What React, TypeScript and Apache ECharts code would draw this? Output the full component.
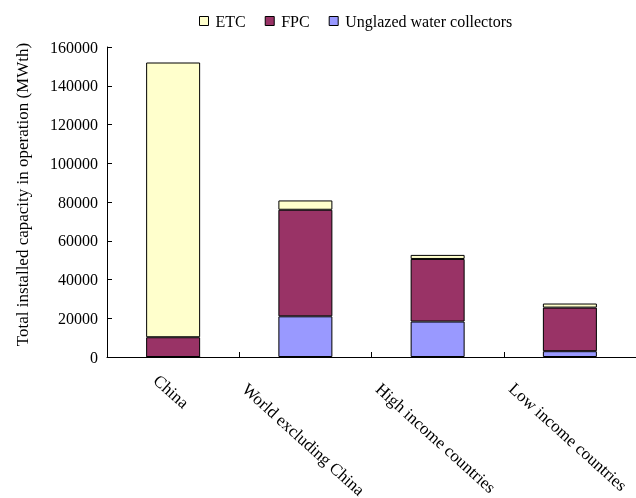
import React, { useEffect, useRef } from "react";
import * as echarts from "echarts";

const categories = ["China", "World excluding China", "High income countries", "Low income countries"];
const unglazed = [0, 21000, 18300, 3000];
const fpc = [10200, 55000, 32300, 22500];
const etc = [141800, 4800, 2100, 2100];
const yTicks = { min: 0, max: 160000, interval: 20000 };

const FONT = "'Liberation Serif', 'Times New Roman', serif";

function measure(text: string, size: number): number {
  const c = document.createElement("canvas");
  const ctx = c.getContext("2d");
  if (!ctx) return text.length * size * 0.45;
  ctx.font = `${size}px "Liberation Serif"`;
  return ctx.measureText(text).width;
}

export default function App() {
  const ref = useRef<HTMLDivElement>(null);
  useEffect(() => {
    if (!ref.current) return;
    const chart = echarts.init(ref.current, undefined, { renderer: "svg" });
    const border = { borderColor: "#000", borderWidth: 1 };
    chart.setOption({
      animation: false,
      textStyle: { fontFamily: FONT, color: "#000" },
      legend: {
        data: ["ETC", "FPC", "Unglazed water collectors"],
        left: 199,
        top: 13,
        padding: 0,
        itemWidth: 9,
        itemHeight: 9,
        itemGap: 19,
        icon: "rect",
        itemStyle: { borderColor: "#000", borderWidth: 1 },
        textStyle: { fontFamily: FONT, fontSize: 16, color: "#000", padding: [0, 0, 0, 2] },
      },
      grid: { left: 107, right: -5, top: 47, bottom: 141 },
      xAxis: {
        type: "category",
        data: categories,
        axisLine: { show: true, lineStyle: { color: "#000", width: 1 } },
        axisTick: { show: true, inside: true, length: 5, interval: 0, alignWithLabel: false, lineStyle: { color: "#000" } },
        axisLabel: { show: false },
      },
      yAxis: {
        type: "value",
        min: yTicks.min,
        max: yTicks.max,
        interval: yTicks.interval,
        name: "Total installed capacity in operation (MWth)",
        nameLocation: "middle",
        nameGap: 76,
        nameRotate: 90,
        nameTextStyle: { fontFamily: FONT, fontSize: 17, color: "#000", padding: [0, 0, 0, 15] },
        axisLine: { show: true, lineStyle: { color: "#000", width: 1 } },
        axisTick: { show: true, inside: true, length: 5, lineStyle: { color: "#000" } },
        axisLabel: { margin: 9, fontFamily: FONT, fontSize: 16, color: "#000", formatter: (v: number) => String(v) },
        splitLine: { show: false },
      },
      series: [
        { name: "Unglazed water collectors", type: "bar", stack: "total", barWidth: 54, data: unglazed, itemStyle: { color: "#9999FF", ...border } },
        { name: "FPC", type: "bar", stack: "total", barWidth: 54, data: fpc, itemStyle: { color: "#993366", ...border } },
        { name: "ETC", type: "bar", stack: "total", barWidth: 54, data: etc, itemStyle: { color: "#FFFFCC", ...border } },
      ],
    });
    const y0 = chart.convertToPixel({ yAxisIndex: 0 }, 0) as number;
    const labels = categories.map((cat, i) => {
      const cx = chart.convertToPixel({ xAxisIndex: 0 }, i) as number;
      const L = measure(cat, 17);
      return {
        type: "text",
        x: cx - 2,
        y: y0 + 18 + 0.408 * L,
        rotation: (-42 * Math.PI) / 180,
        style: { text: cat, fontFamily: FONT, fontSize: 17, fill: "#000", align: "center", verticalAlign: "middle" },
      };
    });
    chart.setOption({ graphic: labels });
    return () => chart.dispose();
  }, []);
  return <div ref={ref} style={{ position: "fixed", left: 0, top: 0, width: 636, height: 498 }} />;
}
